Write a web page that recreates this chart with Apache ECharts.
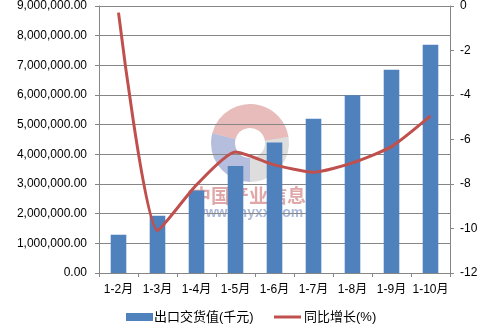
<!DOCTYPE html>
<html><head><meta charset="utf-8">
<script src="https://cdn.jsdelivr.net/npm/echarts@6/dist/echarts.min.js"></script>
<style>html,body{margin:0;padding:0;background:#fff}#c{width:493px;height:324px}</style>
</head><body><div id="c"></div>
<script>
const categories = ['1-2月','1-3月','1-4月','1-5月','1-6月','1-7月','1-8月','1-9月','1-10月'];
const exportValue = [1290000, 1930000, 2780000, 3610000, 4400000, 5200000, 5990000, 6850000, 7690000];
const yoyGrowth = [-0.3, -10.09, -8.04, -6.56, -7.14, -7.47, -7.05, -6.32, -4.94];
const barName = '出口交货值(千元)';
const lineName = '同比增长(%)';

const FONT = '"Liberation Sans", "Noto Sans CJK SC", sans-serif';
const AX = '#868686';
function fmt(v){
  const s = Math.round(v).toString().replace(/\B(?=(\d{3})+(?!\d))/g, ',');
  return s + '.00';
}
const chart = echarts.init(document.getElementById('c'));
chart.setOption({
  animation: false,
  textStyle: {fontFamily: FONT},
  grid: {left: 99, right: 43, top: 6, bottom: 51},
  legend: [
    {data: [barName], left: 126, top: 309, padding: 0, itemWidth: 27, itemHeight: 8, icon: 'rect',
     textStyle: {fontSize: 13, lineHeight: 16, color: '#000', fontFamily: FONT, padding: [0,0,0,-4]}},
    {data: [{name: lineName, icon: 'rect'}], left: 274, top: 309, padding: 0, itemWidth: 27, itemHeight: 3,
     textStyle: {fontSize: 13, lineHeight: 16, color: '#000', fontFamily: FONT, padding: [0,0,0,-2]}}
  ],
  xAxis: {
    type: 'category', data: categories,
    axisLine: {lineStyle: {color: AX}},
    axisTick: {show: true, length: 4, lineStyle: {color: AX}},
    axisLabel: {color: '#000', fontSize: 12, margin: 11, interval: 0}
  },
  yAxis: [
    {type: 'value', min: 0, max: 9000000, interval: 1000000,
     axisLine: {show: true, lineStyle: {color: AX}},
     axisTick: {show: true, length: 4, lineStyle: {color: AX}},
     splitLine: {lineStyle: {color: AX}},
     axisLabel: {color: '#000', fontSize: 12, margin: 12, formatter: fmt}},
    {type: 'value', min: -12, max: 0, interval: 2, position: 'right',
     axisLine: {show: true, lineStyle: {color: AX}},
     axisTick: {show: true, length: 4, lineStyle: {color: AX}},
     splitLine: {show: false},
     axisLabel: {color: '#000', fontSize: 12, margin: 10}}
  ],
  series: [
    {name: barName, type: 'bar', data: exportValue, barWidth: '40%',
     itemStyle: {color: '#4F81BD'}},
    {name: lineName, type: 'line', yAxisIndex: 1, data: yoyGrowth, smooth: 0.2,
     symbol: 'none', lineStyle: {color: '#C0504D', width: 3}, itemStyle: {color: '#C0504D'}}
  ],
  graphic: [
    {type: 'group', silent: true, z: 100, children: [
      {type: 'sector', shape: {cx: 250, cy: 143, r: 39, r0: 15, startAngle: Math.PI*1.08, endAngle: Math.PI*1.95},
       style: {fill: 'rgba(192,80,77,0.38)'}},
      {type: 'sector', shape: {cx: 250, cy: 143, r: 39, r0: 15, startAngle: Math.PI*0.5, endAngle: Math.PI*1.08},
       style: {fill: 'rgba(80,100,175,0.42)'}},
      {type: 'sector', shape: {cx: 250, cy: 143, r: 39, r0: 15, startAngle: -Math.PI*0.05, endAngle: Math.PI*0.5},
       style: {fill: 'rgba(150,150,150,0.32)'}},
      {type: 'text', x: 249, y: 196, style: {text: '中国产业信息', fill: 'rgba(192,80,80,0.5)', font: 'bold 19px "Noto Sans CJK SC"', align: 'center', verticalAlign: 'middle'}},
      {type: 'text', x: 249, y: 213, style: {text: 'www.chyxx.com', fill: 'rgba(70,100,170,0.45)', font: 'bold 14px "Liberation Sans"', align: 'center', verticalAlign: 'middle'}}
    ]}
  ]
});
</script></body></html>
